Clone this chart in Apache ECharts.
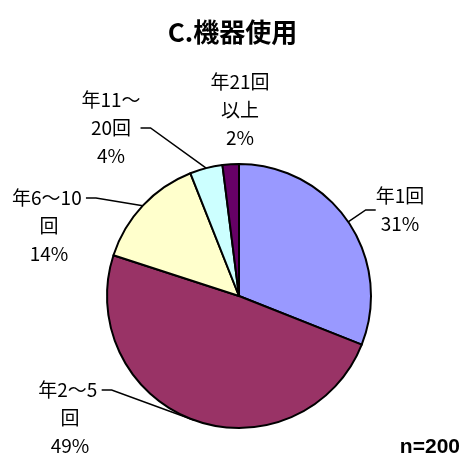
<!DOCTYPE html>
<html><head><meta charset="utf-8">
<script src="https://cdn.jsdelivr.net/npm/echarts@6/dist/echarts.min.js"></script>
<style>html,body{margin:0;padding:0;background:#fff}#c{width:465px;height:464px}</style>
</head><body><div id="c"></div>
<script>
const categories = ['年1回', '年2～5回', '年6～10回', '年11～20回', '年21回以上'];
const labelTexts = ['年1回', '年2～5 \n回', '年6～10 \n回', '年11～\n20回', '年21回\n以上'];
const values = [31, 49, 14, 4, 2];
const colors = ['#9999FF', '#993366', '#FFFFCC', '#CCFFFF', '#660066'];
// label layout (style only): anchor position, and blank lines so the leader meets the first line
const labelPos = [[400, 210], [70, 390], [49, 198], [111, 128], [240, 110]];
const labelLead = [0, 2, 2, 0, 0];
const FONT = '"Noto Sans CJK JP", "Noto Sans", sans-serif';

const chart = echarts.init(document.getElementById('c'), null, {renderer: 'canvas'});
chart.setOption({
  animation: false,
  title: {
    text: 'C.機器使用', left: 'center', top: 14,
    textStyle: {fontFamily: FONT, fontSize: 26, fontWeight: 'bold', color: '#000'}
  },
  graphic: [{
    type: 'text', right: 5, bottom: 6,
    style: {text: 'n=200', font: 'bold 21px "Liberation Sans", Arial, sans-serif', fill: '#000'}
  }],
  series: [{
    type: 'pie',
    center: [239, 296],
    radius: 132,
    startAngle: 90,
    clockwise: true,
    data: categories.map((c, i) => ({
      name: c, value: values[i],
      itemStyle: {color: colors[i]},
      labelLine: {show: i !== 4}
    })),
    itemStyle: {borderColor: '#000', borderWidth: 2},
    label: {
      show: true, position: 'outside',
      formatter: p => '\n'.repeat(labelLead[p.dataIndex]) + labelTexts[p.dataIndex] + '\n' + p.value + '%',
      fontFamily: FONT, fontSize: 19, lineHeight: 28, color: '#000', align: 'center'
    },
    labelLine: {show: true, lineStyle: {color: '#000', width: 1.5}, length: 10, length2: 10},
    labelLayout: p => ({
      x: labelPos[p.dataIndex][0], y: labelPos[p.dataIndex][1],
      align: 'center', verticalAlign: 'middle'
    })
  }]
});
</script></body></html>
